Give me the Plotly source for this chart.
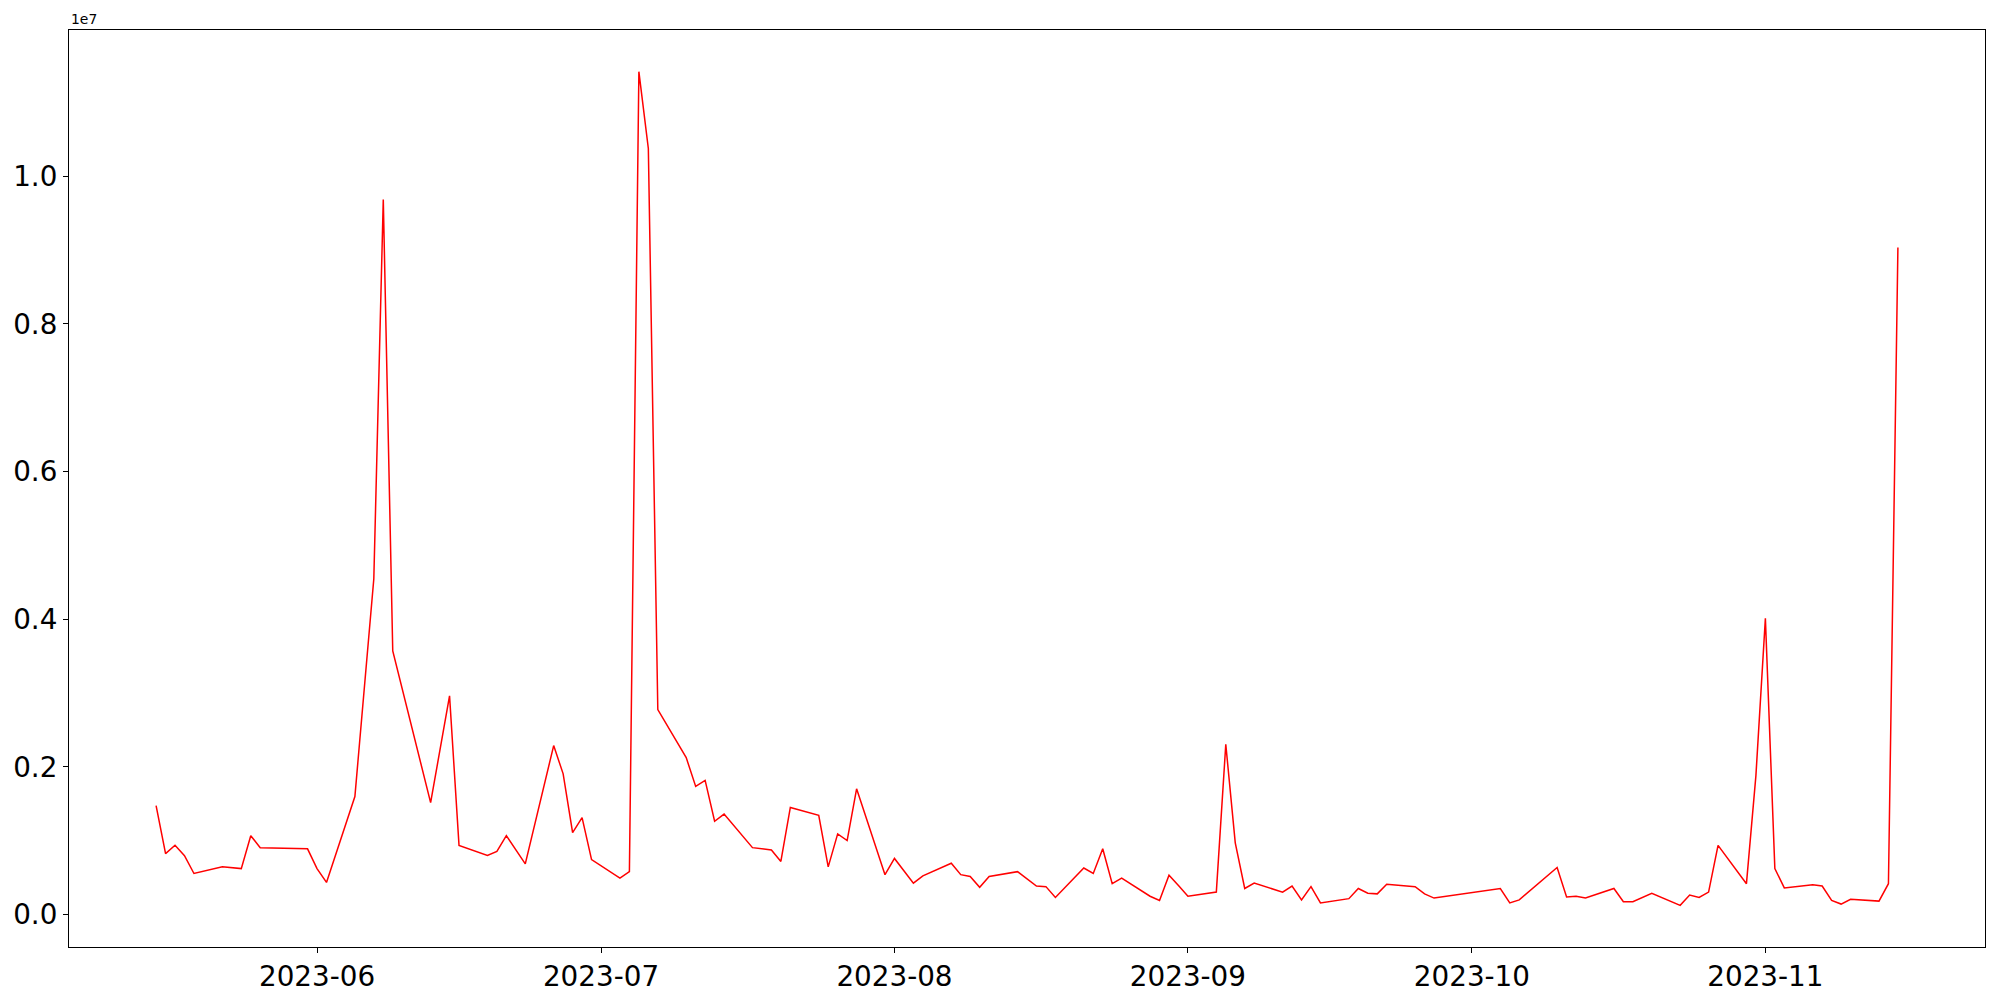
import plotly.graph_objects as go
import numpy as np

# Daily values (dates with a visible vertex)
dates = [
    "2023-05-15", "2023-05-16", "2023-05-17", "2023-05-18", "2023-05-19",
    "2023-05-22", "2023-05-24", "2023-05-25", "2023-05-26", "2023-05-31",
    "2023-06-01", "2023-06-02", "2023-06-05", "2023-06-07", "2023-06-08",
    "2023-06-09", "2023-06-13", "2023-06-15", "2023-06-16", "2023-06-19",
    "2023-06-20", "2023-06-21", "2023-06-23", "2023-06-26", "2023-06-27",
    "2023-06-28", "2023-06-29", "2023-06-30", "2023-07-03", "2023-07-04",
    "2023-07-05", "2023-07-06", "2023-07-07", "2023-07-10", "2023-07-11",
    "2023-07-12", "2023-07-13", "2023-07-14", "2023-07-17", "2023-07-19",
    "2023-07-20", "2023-07-21", "2023-07-24", "2023-07-25", "2023-07-26",
    "2023-07-27", "2023-07-28", "2023-07-31", "2023-08-01", "2023-08-03",
    "2023-08-04", "2023-08-07", "2023-08-08", "2023-08-09", "2023-08-10",
    "2023-08-11", "2023-08-14", "2023-08-16", "2023-08-17", "2023-08-18",
    "2023-08-21", "2023-08-22", "2023-08-23", "2023-08-24", "2023-08-25",
    "2023-08-28", "2023-08-29", "2023-08-30", "2023-08-31", "2023-09-01",
    "2023-09-04", "2023-09-05", "2023-09-06", "2023-09-07", "2023-09-08",
    "2023-09-11", "2023-09-12", "2023-09-13", "2023-09-14", "2023-09-15",
    "2023-09-18", "2023-09-19", "2023-09-20", "2023-09-21", "2023-09-22",
    "2023-09-25", "2023-09-26", "2023-09-27", "2023-10-04", "2023-10-05",
    "2023-10-06", "2023-10-10", "2023-10-11", "2023-10-12", "2023-10-13",
    "2023-10-16", "2023-10-17", "2023-10-18", "2023-10-20", "2023-10-23",
    "2023-10-24", "2023-10-25", "2023-10-26", "2023-10-27", "2023-10-30",
    "2023-10-31", "2023-11-01", "2023-11-02", "2023-11-03", "2023-11-06",
    "2023-11-07", "2023-11-08", "2023-11-09", "2023-11-10", "2023-11-13",
    "2023-11-14", "2023-11-15",
]

values = [
    1476000, 827000, 940000, 800000, 558000,
    648000, 624000, 1070000, 908000, 892000,
    624000, 437000, 1600000, 4548000, 9684000,
    3573000, 1517000, 2963000, 939000, 802000,
    858000, 1070000, 689000, 2290000, 1907000,
    1110000, 1315000, 746000, 494000, 583000,
    11415000, 10375000, 2778000, 2127000, 1737000,
    1818000, 1265000, 1362000, 908000, 876000,
    721000, 1452000, 1346000, 648000, 1094000,
    1004000, 1704000, 542000, 762000, 428000,
    526000, 697000, 542000, 518000, 371000,
    518000, 583000, 388000, 380000, 233000,
    632000, 558000, 892000, 420000, 494000,
    250000, 193000, 534000, 396000, 250000,
    306000, 2306000, 973000, 355000, 428000,
    306000, 388000, 201000, 380000, 160000,
    217000, 355000, 290000, 282000, 412000,
    380000, 282000, 225000, 355000, 160000,
    201000, 640000, 241000, 250000, 225000,
    355000, 176000, 176000, 290000, 127000,
    266000, 233000, 306000, 939000, 420000,
    1883000, 4012000, 624000, 363000, 404000,
    388000, 193000, 144000, 209000, 184000,
    420000, 9035000,
]

y_ticks = [0, 2e6, 4e6, 6e6, 8e6, 1e7]
y_tick_text = ["0.0", "0.2", "0.4", "0.6", "0.8", "1.0"]

# matplotlib-style 5% margins
d = np.array(dates, dtype="datetime64[m]")
span = d[-1] - d[0]
x_range = [str(d[0] - span * 0.05), str(d[-1] + span * 0.05)]
vmin, vmax = min(values), max(values)
pad = (vmax - vmin) * 0.05
y_range = [vmin - pad, vmax + pad]

FONT = "DejaVu Sans"

fig = go.Figure()
fig.add_trace(
    go.Scatter(
        x=dates,
        y=values,
        mode="lines",
        line=dict(color="red", width=1.5),
        showlegend=False,
    )
)

axis_common = dict(
    showline=True,
    mirror=True,
    linecolor="black",
    linewidth=1.1,
    showgrid=False,
    zeroline=False,
    automargin=False,
    ticks="outside",
    ticklen=5,
    tickwidth=1.1,
    tickcolor="black",
    tickfont=dict(family=FONT, size=27.8, color="black"),
)

# page body has an 8px margin, so the figure is a bit smaller than the window
fig.update_layout(
    width=1992,
    height=992,
    paper_bgcolor="white",
    plot_bgcolor="white",
    margin=dict(l=61, r=15, t=22, b=53),
    xaxis=dict(
        axis_common,
        type="date",
        range=x_range,
        tickformat="%Y-%m",
        dtick="M1",
        tick0="2023-06-01",
    ),
    yaxis=dict(
        axis_common,
        range=y_range,
        tickvals=y_ticks,
        ticktext=y_tick_text,
    ),
    annotations=[
        dict(
            text="1e7",
            xref="paper",
            yref="paper",
            x=0,
            y=1,
            xanchor="left",
            yanchor="bottom",
            yshift=1,
            showarrow=False,
            font=dict(family=FONT, size=13.9, color="black"),
        )
    ],
)

fig.write_html("out.html")
